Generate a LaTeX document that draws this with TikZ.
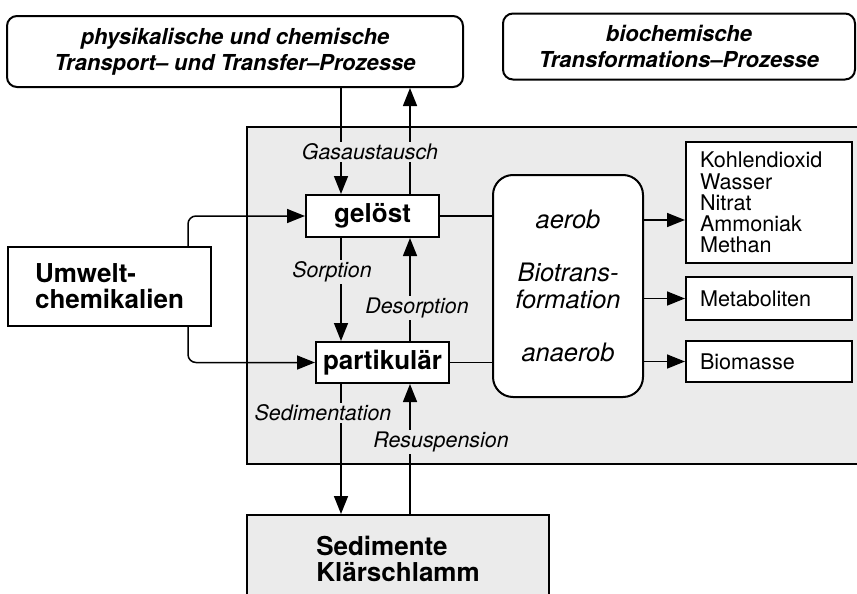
\documentclass[tikz,border=0pt]{standalone}
\usepackage{fontspec}
\setmainfont{TeX Gyre Heros}
\usetikzlibrary{arrows.meta}
\colorlet{shade}{black!8}

\begin{document}
\begin{tikzpicture}[x=0.5pt,y=-0.5pt,
		box/.style={draw,line width=1pt,fill=white,inner sep=0pt},
		proz/.style={box,rounded corners=5pt,align=center,font=\fontsize{11}{13}\selectfont\bfseries\itshape},
		phase/.style={box,font=\fontsize{13}{13}\selectfont\bfseries},
		stoff/.style={box,text width=69pt,inner xsep=7pt,align=left,font=\fontsize{10.8}{10.6}\selectfont},
		lbl/.style={fill=shade,inner sep=1pt,font=\fontsize{10.7}{12}\selectfont\itshape},
		pfeil/.style={line width=0.75pt,-{Triangle[length=9pt,width=7pt]}},
		linie/.style={line width=0.75pt}]
				\useasboundingbox (0,0) rectangle (857,594);
				\node[box,fill=shade,minimum width=330pt,minimum height=168.5pt] (wasser) at (577,295.5) {};
				\node[proz,minimum width=228pt,minimum height=35.5pt] (topl) at (235,51.5) {physikalische und chemische\\Transport-- und Transfer--Prozesse};
				\node[proz,minimum width=176pt,minimum height=33pt] (topr) at (679,46.5) {biochemische\\Transformations--Prozesse};
				\node[phase,minimum width=66.5pt,minimum height=21pt] (gelost) at (372.5,216) {gelöst};
				\node[phase,minimum width=66.5pt,minimum height=20.5pt] (partikular) at (382.5,362.5) {partikulär};
				\node[phase,align=left,minimum width=101.5pt,minimum height=39.5pt] (umwelt) at (109.5,286.5) {Umwelt-\\chemikalien};
				\node[phase,fill=shade,align=left,minimum width=151pt,minimum height=44pt] (sed) at (398,559) {Sedimente\\Klärschlamm};
				\node[box,rounded corners=10pt,minimum width=75pt,minimum height=111pt,align=center,font=\fontsize{12.7}{13.5}\selectfont\itshape] (bio) at (568,286) {aerob\\[13pt]Biotrans-\\formation\\[13pt]anaerob};
				\node[stoff,minimum height=60.5pt] (prod) at (769,202.5) {Kohlendioxid\\Wasser\\Nitrat\\Ammoniak\\Methan};
				\node[stoff,minimum height=21.5pt] (met) at (769,298.5) {Metaboliten};
				\node[stoff,minimum height=20.5pt] (biom) at (769,361.5) {Biomasse};
				\coordinate (links) at (341,0);
				\coordinate (rechts) at (410,0);
				\coordinate (knick) at (188,0);
				\coordinate (prodin) at ([yshift=-8.75pt]prod.west);
				\draw[pfeil] (topl.south -| links) -- (gelost.north -| links);
				\draw[pfeil] (gelost.north -| rechts) -- (topl.south -| rechts);
				\draw[pfeil] (gelost.south -| links) -- (partikular.north -| links);
				\draw[pfeil] (partikular.north -| rechts) -- (gelost.south -| rechts);
				\draw[pfeil] (partikular.south -| links) -- (sed.north -| links);
				\draw[pfeil] (sed.north -| rechts) -- (partikular.south -| rechts);
				\draw[pfeil,rounded corners=4pt] (umwelt.north -| knick) |- (gelost.west);
				\draw[pfeil,rounded corners=4pt] (umwelt.south -| knick) |- (partikular.west);
				\draw[linie] (gelost.east) -- (gelost.east -| bio.west);
				\draw[linie] (partikular.east) -- (partikular.east -| bio.west);
				\draw[pfeil] (prodin -| bio.east) -- (prodin);
				\draw[pfeil] (met.west -| bio.east) -- (met.west);
				\draw[pfeil] (biom.west -| bio.east) -- (biom.west);
				\node[lbl] (gas) at (370,152) {Gasaustausch};
				\node[lbl] (sorp) at (332,272) {Sorption};
				\node[lbl] (desorp) at (417,308) {Desorption};
				\node[lbl] (sedim) at (323,413) {Sedimentation};
				\node[lbl] (resusp) at (441,442) {Resuspension};
			\end{tikzpicture}
\end{document}
